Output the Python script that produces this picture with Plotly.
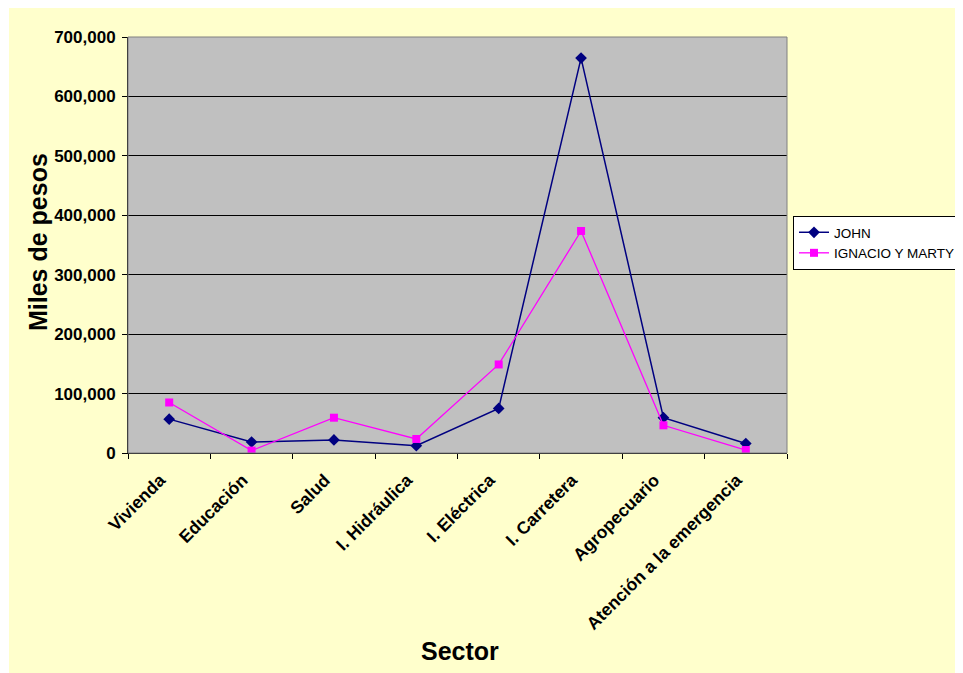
import plotly.graph_objects as go

categories = ["Vivienda", "Educación", "Salud", "I. Hidráulica", "I. Eléctrica",
              "I. Carretera", "Agropecuario", "Atención a la emergencia"]
john = [57000, 18500, 22000, 12300, 75000, 664500, 59400, 16000]
ignacio_marty = [85000, 4000, 59400, 23600, 149000, 373600, 46600, 5000]
y_ticks = [0, 100000, 200000, 300000, 400000, 500000, 600000, 700000]

FONT = "Arial, Liberation Sans, sans-serif"
# page has an 8px body margin; figure origin sits at page (8, 8)
OX, OY = 8, 8
W, H = 955, 665
PL, PT, PR, PB = 128, 37, 787, 453   # plot area in page pixels
L, T = PL - OX, PT - OY
R, B = W - (PR - OX), H - (PB - OY)
pw = PR - PL
ph = PB - PT

fig = go.Figure()
fig.add_trace(go.Scatter(
    x=categories, y=john, name="JOHN", mode="lines+markers",
    line=dict(color="#000080", width=1.5),
    marker=dict(symbol="diamond", size=9, color="#000080"),
))
fig.add_trace(go.Scatter(
    x=categories, y=ignacio_marty, name="IGNACIO Y MARTY", mode="lines+markers",
    line=dict(color="#FF00FF", width=1.3),
    marker=dict(symbol="square", size=8, color="#FF00FF"),
))

def px_x(p):
    return (p - PL) / pw

def px_y(p):
    return (PB - p) / ph

fig.update_layout(
    width=W, height=H,
    margin=dict(l=L, r=R, t=T, b=B, pad=0, autoexpand=False),
    paper_bgcolor="white",
    plot_bgcolor="#C0C0C0",
    font=dict(family=FONT, color="black"),
    showlegend=True,
    legend=dict(
        xref="container", yref="container",
        x=(793 - OX) / W, y=1 - (216 - OY) / H, xanchor="left", yanchor="top",
        bgcolor="white", bordercolor="black", borderwidth=1,
        font=dict(size=13.5, family=FONT), tracegroupgap=0,
        itemwidth=30,
    ),
    xaxis=dict(
        type="category", range=[-0.5, 7.5],
        tickson="boundaries", ticks="outside", ticklen=5, tickcolor="black",
        showgrid=False, showline=True, linecolor="black", linewidth=1,
        tickangle=-45, tickfont=dict(size=17.5, family=FONT, weight="bold"),
        ticklabelstandoff=9, ticklabelshift=-9,
        zeroline=False,
    ),
    yaxis=dict(
        range=[0, 700000], tickvals=y_ticks, tickformat=",",
        ticks="outside", ticklen=5, tickcolor="black",
        showgrid=True, gridcolor="black", gridwidth=1,
        showline=True, linecolor="black", linewidth=1,
        tickfont=dict(size=17, family=FONT, weight="bold"),
        ticklabelstandoff=3,
        zeroline=False,
    ),
    shapes=[
        dict(type="rect", xref="paper", yref="paper",
             x0=px_x(9), x1=px_x(W + OX + 5), y0=px_y(H + OY), y1=px_y(0),
             fillcolor="#FFFFCC", line=dict(width=0), layer="below"),
        dict(type="rect", xref="paper", yref="paper",
             x0=0, x1=1, y0=0, y1=1,
             fillcolor="#C0C0C0", line=dict(width=0), layer="below"),
        dict(type="rect", xref="paper", yref="paper",
             x0=0, x1=1, y0=0, y1=1,
             line=dict(color="#808080", width=1), layer="above"),
    ],
    annotations=[
        dict(text="Miles de pesos", xref="paper", yref="paper",
             x=px_x(38), y=px_y(242), xanchor="center", yanchor="middle",
             textangle=-90, showarrow=False,
             font=dict(size=25, family=FONT, weight="bold")),
        dict(text="Sector", xref="paper", yref="paper",
             x=px_x(460), y=px_y(651), xanchor="center", yanchor="middle",
             showarrow=False,
             font=dict(size=25, family=FONT, weight="bold")),
    ],
)

fig.write_html("out.html")
